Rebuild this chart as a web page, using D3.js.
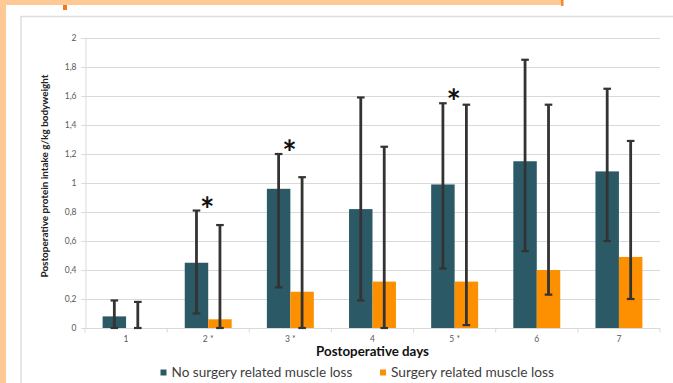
<!DOCTYPE html>
<html>
<head>
<meta charset="utf-8">
<script src="https://cdn.jsdelivr.net/npm/d3@7"></script>
<style>
  html, body { margin: 0; padding: 0; background: #ffffff; }
  svg { display: block; }
  text { font-family: Lato, "Open Sans", sans-serif; }
</style>
</head>
<body>
<script>
// Postoperative protein intake per day, by muscle-loss group
const days = ["1", "2", "3", "4", "5", "6", "7"];
const dayLabels = ["1", "2 *", "3 *", "4", "5 *", "6", "7"];
const significantDays = ["2", "3", "5"];
const seriesNames = ["No surgery related muscle loss", "Surgery related muscle loss"];

const noLossMean  = [0.08, 0.45, 0.96, 0.82, 0.99, 1.15, 1.08];
const noLossLow   = [0.00, 0.10, 0.28, 0.19, 0.41, 0.53, 0.60];
const noLossHigh  = [0.19, 0.81, 1.20, 1.59, 1.55, 1.85, 1.65];

const lossMean    = [0.00, 0.06, 0.25, 0.32, 0.32, 0.40, 0.49];
const lossLow     = [0.00, 0.00, 0.00, 0.00, 0.02, 0.23, 0.20];
const lossHigh    = [0.18, 0.71, 1.04, 1.25, 1.54, 1.54, 1.29];

const yTicks = [0, 0.2, 0.4, 0.6, 0.8, 1, 1.2, 1.4, 1.6, 1.8, 2];

const colors = ["#2b5a66", "#fd9000"];

const W = 673, H = 383;
const plot = { left: 85, right: 660, top: 38, bottom: 328 };

const svg = d3.select("body").append("svg")
  .attr("width", W).attr("height", H);

// Slide frame: peach border along top and left, grey panel outline
svg.append("rect").attr("x", 0).attr("y", 0).attr("width", 562).attr("height", 5).attr("fill", "#ffc996");
svg.append("rect").attr("x", 0).attr("y", 0).attr("width", 6).attr("height", H).attr("fill", "#ffc996");
svg.append("rect").attr("x", 561).attr("y", 0).attr("width", 2.5).attr("height", 6).attr("fill", "#f28a2e");
svg.append("rect").attr("x", 63).attr("y", 5).attr("width", 4).attr("height", 5).attr("fill", "#f07a1e");
svg.append("line").attr("x1", 21).attr("x2", W).attr("y1", 16.5).attr("y2", 16.5)
  .attr("stroke", "#dedede").attr("stroke-width", 1.5);
svg.append("line").attr("x1", 21).attr("x2", 21).attr("y1", 16).attr("y2", H)
  .attr("stroke", "#dedede").attr("stroke-width", 1.5);

// Scales
const x0 = d3.scaleBand().domain(days).range([plot.left, plot.right]).padding(0);
const bw = x0.bandwidth();
const barW = bw / 3.5; // 150% gap between category groups
const x1 = d3.scaleBand().domain([0, 1]).range([(bw - 2 * barW) / 2, (bw + 2 * barW) / 2]).padding(0);
const y = d3.scaleLinear().domain([0, 2]).range([plot.bottom, plot.top]);

// Horizontal gridlines
svg.append("g").selectAll("line").data(yTicks.slice(1)).join("line")
  .attr("x1", plot.left).attr("x2", plot.right)
  .attr("y1", d => Math.round(y(d)) + 0.5).attr("y2", d => Math.round(y(d)) + 0.5)
  .attr("stroke", "#d9d9d9").attr("stroke-width", 1);

// Y axis
const yAxis = svg.append("g")
  .attr("transform", `translate(${plot.left + 0.5},0)`)
  .call(d3.axisLeft(y).tickValues(yTicks).tickSize(4).tickPadding(5)
    .tickFormat(d => String(d).replace(".", ",")));
yAxis.select(".domain").attr("stroke", "#d9d9d9");
yAxis.selectAll(".tick line").attr("stroke", "#d9d9d9");
yAxis.selectAll(".tick text").attr("fill", "#595959").attr("font-size", 8.5)
  .attr("font-family", "Lato, sans-serif");

// X axis with ticks on category boundaries
const xAxisG = svg.append("g").attr("transform", `translate(0,${plot.bottom + 0.5})`);
xAxisG.append("line").attr("x1", plot.left).attr("x2", plot.right).attr("y1", 0).attr("y2", 0)
  .attr("stroke", "#d9d9d9");
xAxisG.selectAll("line.bound").data(days.concat(["end"])).join("line").attr("class", "bound")
  .attr("x1", (d, i) => plot.left + i * bw).attr("x2", (d, i) => plot.left + i * bw)
  .attr("y1", 0).attr("y2", 4).attr("stroke", "#d9d9d9");
xAxisG.selectAll("text").data(days).join("text")
  .attr("x", d => x0(d) + bw / 2).attr("y", 13.5)
  .attr("text-anchor", "middle").attr("font-size", 8.5).attr("fill", "#595959")
  .text((d, i) => dayLabels[i]);

// Bars
const rows = days.map((d, i) => ({
  day: d,
  values: [
    { s: 0, mean: noLossMean[i], low: noLossLow[i], high: noLossHigh[i] },
    { s: 1, mean: lossMean[i], low: lossLow[i], high: lossHigh[i] }
  ]
}));

const groups = svg.append("g").selectAll("g").data(rows).join("g")
  .attr("transform", d => `translate(${x0(d.day)},0)`);

groups.selectAll("rect").data(d => d.values).join("rect")
  .attr("x", d => x1(d.s)).attr("width", x1.bandwidth())
  .attr("y", d => y(d.mean)).attr("height", d => y(0) - y(d.mean))
  .attr("fill", d => colors[d.s]);

// Error bars
const err = groups.selectAll("g.err").data(d => d.values).join("g").attr("class", "err")
  .attr("transform", d => `translate(${x1(d.s) + x1.bandwidth() / 2},0)`);
err.append("line").attr("x1", 0).attr("x2", 0)
  .attr("y1", d => y(d.low)).attr("y2", d => y(d.high))
  .attr("stroke", "#333333").attr("stroke-width", 2.8);
err.append("line").attr("x1", -3.8).attr("x2", 3.8)
  .attr("y1", d => y(d.high)).attr("y2", d => y(d.high))
  .attr("stroke", "#333333").attr("stroke-width", 2.2);
err.append("line").attr("x1", -3.8).attr("x2", 3.8)
  .attr("y1", d => y(d.low)).attr("y2", d => y(d.low))
  .attr("stroke", "#333333").attr("stroke-width", 2.2);

// Significance markers over the group
svg.append("g").selectAll("text").data(rows.filter(r => significantDays.includes(r.day))).join("text")
  .attr("x", d => x0(d.day) + bw / 2 - 1)
  .attr("y", d => y(d3.max(d.values, v => v.high)) + 11)
  .attr("text-anchor", "middle").attr("font-size", 34).attr("font-weight", 700)
  .attr("fill", "#111").attr("font-family", "DejaVu Sans, sans-serif")
  .text("*");

// Fit a text element to a target width by adjusting font-size
function fitWidth(sel, target) {
  const node = sel.node();
  const fs = parseFloat(sel.attr("font-size"));
  const w = node.getComputedTextLength();
  sel.attr("font-size", (fs * target / w).toFixed(2));
}

// Axis titles
svg.append("text")
  .attr("transform", `translate(48,176) rotate(-90)`)
  .attr("x", -101.5)
  .attr("font-size", 10).attr("font-weight", 700)
  .attr("textLength", 203).attr("lengthAdjust", "spacingAndGlyphs")
  .attr("fill", "#222").text("Postoperative protein intake g/kg bodyweight");

const xTitle = svg.append("text")
  .attr("x", (plot.left + plot.right) / 2).attr("y", 356)
  .attr("text-anchor", "middle").attr("font-size", 11).attr("font-weight", 700)
  .attr("fill", "#111").text("Postoperative days");
fitWidth(xTitle, 113);

// Legend
const legendX = [160.5, 380];
const legendTarget = [181, 163];
const legend = svg.append("g").selectAll("g").data(seriesNames).join("g")
  .attr("transform", (d, i) => `translate(${legendX[i]},0)`);
legend.append("rect").attr("x", 0).attr("y", 369.5).attr("width", 6).attr("height", 6)
  .attr("fill", (d, i) => colors[i]);
legend.append("text").attr("x", 11).attr("y", 377)
  .attr("font-size", 12).attr("fill", "#404040").text(d => d)
  .each(function (d, i) { fitWidth(d3.select(this), legendTarget[i]); });
</script>
</body>
</html>
